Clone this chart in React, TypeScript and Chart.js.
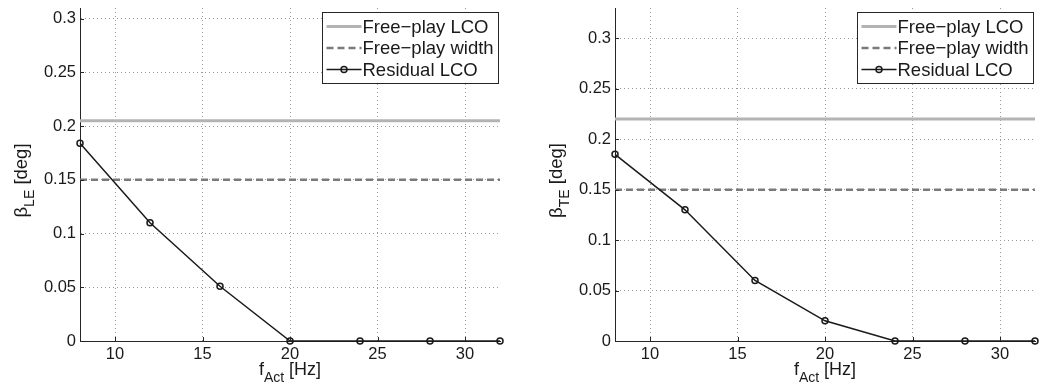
import React, { useEffect, useRef } from "react";
import { Chart, registerables } from "chart.js";

Chart.register(...registerables);

// ---------- data ----------
const freqs = [8, 12, 16, 20, 24, 28, 32];
const residualLE = [0.184, 0.11, 0.051, 0, 0, 0, 0];
const residualTE = [0.185, 0.13, 0.06, 0.02, 0, 0, 0];
const lineEnds = [8, 32];
const freePlayLcoLE = 0.205;
const freePlayLcoTE = 0.22;
const freePlayWidth = 0.15;
const xTicks = [10, 15, 20, 25, 30];
const yTicks = [0, 0.05, 0.1, 0.15, 0.2, 0.25, 0.3];
const legendLabels = ["Free\u2212play LCO", "Free\u2212play width", "Residual LCO"];
const xMin = 8;
const xMax = 32;
const yMaxLE = 0.31;
const yMaxTE = 0.33;

const FONT = "'Liberation Sans', Arial, Helvetica, sans-serif";
const TEXT = "#1a1a1a";
const AXIS = "#262626";
const LCO_COLOR = "#b3b3b3";
const WIDTH_COLOR = "#7a7a7a";
const RES_COLOR = "#1a1a1a";

type Part = { text: string; size: number; dy: number };

function drawRich(ctx: CanvasRenderingContext2D, parts: Part[], cx: number, cy: number, rotate: boolean) {
  ctx.save();
  ctx.translate(cx, cy);
  if (rotate) ctx.rotate(-Math.PI / 2);
  ctx.fillStyle = TEXT;
  ctx.textBaseline = "alphabetic";
  ctx.textAlign = "left";
  let total = 0;
  const widths = parts.map((p) => {
    ctx.font = `${p.size}px ${FONT}`;
    const w = ctx.measureText(p.text).width;
    total += w;
    return w;
  });
  let x = -total / 2;
  parts.forEach((p, i) => {
    ctx.font = `${p.size}px ${FONT}`;
    ctx.fillText(p.text, x, p.dy);
    x += widths[i];
  });
  ctx.restore();
}

function makePlugins(sub: string) {
  const labels = {
    id: "axisLabels",
    afterDraw(chart: any) {
      const ctx = chart.ctx as CanvasRenderingContext2D;
      const a = chart.chartArea;
      drawRich(
        ctx,
        [
          { text: "f", size: 18, dy: 0 },
          { text: "Act", size: 14, dy: 7 },
          { text: " [Hz]", size: 18, dy: 0 },
        ],
        (a.left + a.right) / 2,
        375,
        false
      );
      drawRich(
        ctx,
        [
          { text: "\u03b2", size: 18.5, dy: 0 },
          { text: sub, size: 14, dy: 7 },
          { text: " [deg]", size: 18.5, dy: 0 },
        ],
        a.left - 53,
        (a.top + a.bottom) / 2 + 6,
        true
      );
    },
  };
  const ticksIn = {
    id: "ticksIn",
    afterDraw(chart: any) {
      const ctx = chart.ctx as CanvasRenderingContext2D;
      const a = chart.chartArea;
      const xs = chart.scales.x;
      const ys = chart.scales.y;
      ctx.save();
      ctx.strokeStyle = AXIS;
      ctx.lineWidth = 1;
      ctx.beginPath();
      xTicks.forEach((v) => {
        const px = Math.round(xs.getPixelForValue(v)) + 0.5;
        ctx.moveTo(px, a.bottom);
        ctx.lineTo(px, a.bottom - 4);
      });
      yTicks.forEach((v) => {
        const py = Math.round(ys.getPixelForValue(v)) + 0.5;
        ctx.moveTo(a.left, py);
        ctx.lineTo(a.left + 4, py);
      });
      ctx.stroke();
      ctx.restore();
    },
  };
  const legend = {
    id: "boxLegend",
    afterDraw(chart: any) {
      const ctx = chart.ctx as CanvasRenderingContext2D;
      const a = chart.chartArea;
      const w = 176;
      const h = 71;
      const left = Math.round(a.right - 2 - w) + 0.5;
      const top = 12.5;
      ctx.save();
      ctx.fillStyle = "#ffffff";
      ctx.fillRect(left, top, w, h);
      ctx.strokeStyle = AXIS;
      ctx.lineWidth = 1;
      ctx.strokeRect(left, top, w, h);
      const rows = [top + 14, top + 35.5, top + 57];
      const x0 = left + 4;
      const x1 = left + 39;
      // row 1
      ctx.beginPath();
      ctx.strokeStyle = LCO_COLOR;
      ctx.lineWidth = 3;
      ctx.moveTo(x0, rows[0]);
      ctx.lineTo(x1, rows[0]);
      ctx.stroke();
      // row 2
      ctx.beginPath();
      ctx.strokeStyle = WIDTH_COLOR;
      ctx.lineWidth = 2.5;
      ctx.setLineDash([7, 4]);
      ctx.moveTo(x0, rows[1]);
      ctx.lineTo(x1, rows[1]);
      ctx.stroke();
      ctx.setLineDash([]);
      // row 3
      ctx.beginPath();
      ctx.strokeStyle = RES_COLOR;
      ctx.lineWidth = 1.5;
      ctx.moveTo(x0, rows[2]);
      ctx.lineTo(x1, rows[2]);
      ctx.stroke();
      ctx.beginPath();
      ctx.arc((x0 + x1) / 2, rows[2], 3, 0, Math.PI * 2);
      ctx.stroke();
      ctx.fillStyle = TEXT;
      ctx.font = `18.5px ${FONT}`;
      ctx.textBaseline = "middle";
      ctx.textAlign = "left";
      legendLabels.forEach((t, i) => ctx.fillText(t, x1 + 1, rows[i] + 1));
      ctx.restore();
    },
  };
  return [ticksIn, labels, legend];
}

function makeConfig(residual: number[], lco: number, yMax: number, sub: string, yAxisWidth: number, rightPad: number): any {
  return {
    type: "line",
    data: {
      datasets: [
        {
          label: legendLabels[2],
          data: freqs.map((x, i) => ({ x, y: residual[i] })),
          borderColor: RES_COLOR,
          borderWidth: 1.5,
          pointRadius: 3,
          pointBorderWidth: 1.5,
          pointBorderColor: RES_COLOR,
          pointBackgroundColor: "rgba(0,0,0,0)",
          tension: 0,
          clip: false,
        },
        {
          label: legendLabels[1],
          data: lineEnds.map((x) => ({ x, y: freePlayWidth })),
          borderColor: WIDTH_COLOR,
          borderWidth: 2.5,
          borderDash: [7, 4],
          pointRadius: 0,
          clip: false,
        },
        {
          label: legendLabels[0],
          data: lineEnds.map((x) => ({ x, y: lco })),
          borderColor: LCO_COLOR,
          borderWidth: 3,
          pointRadius: 0,
          clip: false,
        },
      ],
    },
    options: {
      animation: false,
      responsive: false,
      maintainAspectRatio: false,
      layout: { padding: { top: 8, right: rightPad, left: 0, bottom: 0 } },
      plugins: { legend: { display: false }, tooltip: { enabled: false } },
      scales: {
        x: {
          type: "linear",
          min: xMin,
          max: xMax,
          afterBuildTicks: (s: any) => {
            s.ticks = xTicks.map((v) => ({ value: v }));
          },
          afterFit: (s: any) => {
            s.height = 47;
            s.paddingLeft = 0;
            s.paddingRight = 0;
          },
          grid: { color: "#9a9a9a", lineWidth: 1, drawTicks: false },
          border: { display: true, color: AXIS, width: 1, dash: [1, 3] },
          ticks: {
            font: { family: FONT, size: 16.5 },
            color: TEXT,
            padding: 4,
            maxRotation: 0,
            autoSkip: false,
            callback: (v: any) => String(v),
          },
        },
        y: {
          type: "linear",
          min: 0,
          max: yMax,
          afterBuildTicks: (s: any) => {
            s.ticks = yTicks.map((v) => ({ value: v }));
          },
          afterFit: (s: any) => {
            s.width = yAxisWidth;
            s.paddingTop = 0;
            s.paddingBottom = 0;
          },
          grid: { color: "#9a9a9a", lineWidth: 1, drawTicks: false },
          border: { display: true, color: AXIS, width: 1, dash: [1, 3] },
          ticks: {
            font: { family: FONT, size: 16.5 },
            color: TEXT,
            padding: 4,
            autoSkip: false,
            callback: (v: any) => String(+Number(v).toFixed(4)),
          },
        },
      },
    },
    plugins: makePlugins(sub),
  };
}

function ChartCanvas(props: { width: number; left: number; config: () => any }) {
  const ref = useRef<HTMLCanvasElement | null>(null);
  useEffect(() => {
    if (!ref.current) return;
    const chart = new Chart(ref.current, props.config());
    return () => chart.destroy();
  }, []);
  return (
    <canvas
      ref={ref}
      width={props.width}
      height={388}
      style={{ position: "absolute", left: props.left, top: 0, width: props.width, height: 388, display: "block" }}
    />
  );
}

export default function App() {
  return (
    <div style={{ position: "absolute", left: 0, top: 0, width: 1041, height: 388, background: "#ffffff", overflow: "hidden" }}>
      <ChartCanvas width={520} left={0} config={() => makeConfig(residualLE, freePlayLcoLE, yMaxLE, "LE", 80, 20)} />
      <ChartCanvas width={521} left={520} config={() => makeConfig(residualTE, freePlayLcoTE, yMaxTE, "TE", 95, 6)} />
    </div>
  );
}
